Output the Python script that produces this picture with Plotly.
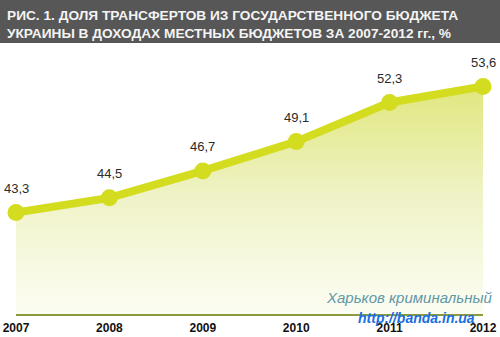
import plotly.graph_objects as go

years = [2007, 2008, 2009, 2010, 2011, 2012]
share = [43.3, 44.5, 46.7, 49.1, 52.3, 53.6]
share_labels = ["43,3", "44,5", "46,7", "49,1", "52,3", "53,6"]
tick_labels = ["2007", "2008", "2009", "2010", "2011", "2012"]

title_text = ("РИС. 1. ДОЛЯ ТРАНСФЕРТОВ ИЗ ГОСУДАРСТВЕННОГО БЮДЖЕТА<br>"
              "УКРАИНЫ В ДОХОДАХ МЕСТНЫХ БЮДЖЕТОВ ЗА 2007-2012 гг., %")

Y_MIN, Y_MAX = 35, 56.59
W, H = 500, 337
ML, MR, MT, MB = 16, 17, 50, 23
PW, PH = W - ML - MR, H - MT - MB


def px(x):
    return (x - ML) / PW


def py(y):
    return (H - MB - y) / PH


LINE = "#d3dc1f"

fig = go.Figure()

# floor of the area fill
fig.add_trace(go.Scatter(
    x=years, y=[Y_MIN] * len(years), mode="lines",
    line=dict(width=0, color="rgba(0,0,0,0)"), hoverinfo="skip", showlegend=False,
))

# gradient area under the series
fig.add_trace(go.Scatter(
    x=years, y=share, mode="lines", fill="tonexty",
    line=dict(width=0, color="rgba(0,0,0,0)"),
    fillgradient=dict(type="vertical",
                      colorscale=[[0, "#fcfdf3"], [0.5, "#f0f3c8"], [1, "#e0e77e"]]),
    hoverinfo="skip", showlegend=False,
))

# main line with markers
fig.add_trace(go.Scatter(
    x=years, y=share, mode="lines+markers",
    line=dict(color=LINE, width=8),
    marker=dict(color=LINE, size=17),
    cliponaxis=False, showlegend=False,
))

annotations = []
for x, y, t in zip(years, share, share_labels):
    annotations.append(dict(
        x=x, y=y, text=t, showarrow=False, yshift=24,
        font=dict(family="Liberation Sans, Arial", size=13, color="#2a2a2a"),
    ))

annotations.append(dict(
    xref="paper", yref="paper", x=px(5), y=py(24),
    xanchor="left", yanchor="middle", align="left", showarrow=False,
    text="<b>" + title_text + "</b>",
    font=dict(family="Liberation Sans, Arial", size=13.7, color="#f4f4f4"),
))

annotations.append(dict(
    xref="paper", yref="paper", x=px(494), y=py(297),
    xanchor="right", yanchor="middle", showarrow=False,
    text="<i>Харьков криминальный</i>",
    font=dict(family="Liberation Sans, Arial", size=15, color="#5f98a8"),
))
annotations.append(dict(
    xref="paper", yref="paper", x=px(416), y=py(318),
    xanchor="center", yanchor="middle", showarrow=False,
    text="<i><b>http://banda.in.ua</b></i>",
    font=dict(family="Liberation Sans, Arial", size=14, color="#1a6fe0"),
))

fig.update_layout(
    width=W, height=H,
    margin=dict(l=ML, r=MR, t=MT, b=MB, pad=0, autoexpand=False),
    paper_bgcolor="white", plot_bgcolor="white",
    xaxis=dict(range=[2007, 2012], tickvals=years, ticktext=tick_labels,
               showgrid=False, zeroline=False, showline=True, automargin=False,
               linecolor="#8c9a3c", linewidth=2, ticks="",
               tickfont=dict(family="Liberation Sans, Arial", size=12, color="#111111",
                             weight="bold"),
               ticklabelstandoff=2),
    yaxis=dict(range=[Y_MIN, Y_MAX], visible=False, showgrid=False, zeroline=False,
               automargin=False),
    shapes=[dict(type="rect", xref="paper", yref="paper",
                 x0=px(0), x1=px(W), y0=py(43), y1=py(0),
                 fillcolor="#575757", line=dict(width=0), layer="below")],
    annotations=annotations,
)

fig.write_html("out.html")
